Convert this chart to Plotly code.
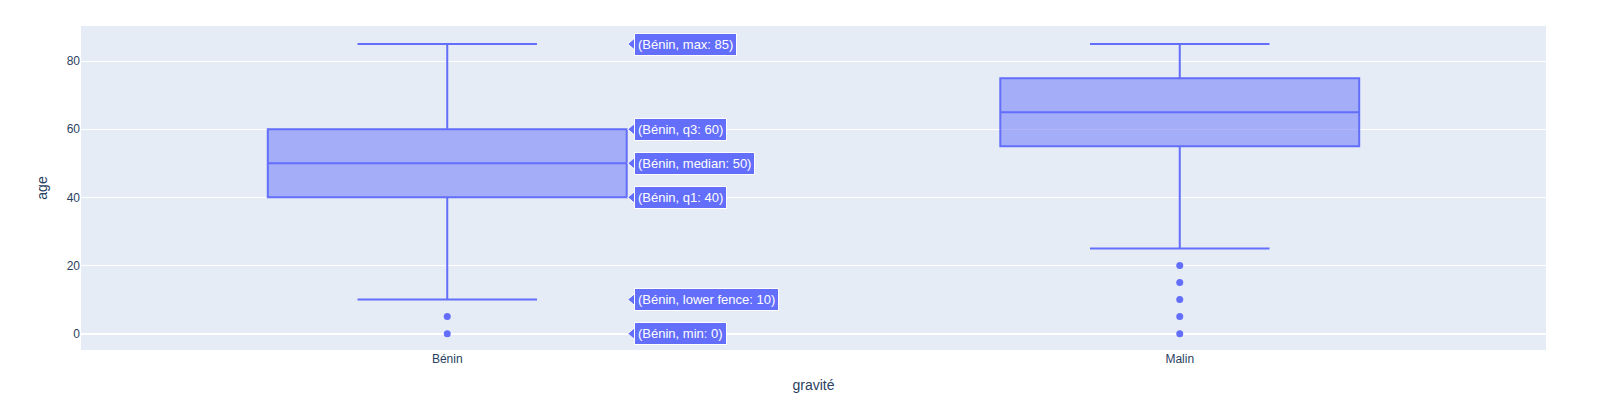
import plotly.graph_objects as go

categories = ["Bénin", "Malin"]
lower_fence = [10, 25]
q1 = [40, 55]
median = [50, 65]
q3 = [60, 75]
upper_fence = [85, 85]
outliers = {"Bénin": [0, 5], "Malin": [0, 5, 10, 15, 20]}

hover_cat = "Bénin"
hover_labels = [("max", 85), ("q3", 60), ("median", 50), ("q1", 40), ("lower fence", 10), ("min", 0)]

COLOR = "#636efa"
BOX_W = 0.49

fig = go.Figure()
fig.add_trace(go.Box(
    x=categories, q1=q1, median=median, q3=q3,
    lowerfence=lower_fence, upperfence=upper_fence,
    width=BOX_W, marker_color=COLOR, line_color=COLOR,
    fillcolor="rgba(99,110,250,0.5)", boxpoints=False, showlegend=False,
))
ox, oy = [], []
for c in categories:
    for v in outliers[c]:
        ox.append(c)
        oy.append(v)
fig.add_trace(go.Scatter(x=ox, y=oy, mode="markers",
                         marker=dict(color=COLOR, size=7), showlegend=False))

xi = categories.index(hover_cat)
edge = xi + BOX_W / 2
for name, val in hover_labels:
    fig.add_shape(type="path", xref="x", yref="y", xsizemode="pixel", ysizemode="pixel",
                  xanchor=edge, yanchor=val, path="M 1 0 L 8 6 L 8 -6 Z",
                  fillcolor=COLOR, line=dict(color="white", width=1), layer="above")
    fig.add_annotation(x=edge, y=val, xref="x", yref="y", xanchor="left", yanchor="middle",
                       xshift=7, showarrow=False,
                       text=f"({hover_cat}, {name}: {val})",
                       font=dict(family="Arial", size=13, color="white"),
                       bgcolor=COLOR, bordercolor="white", borderwidth=1, borderpad=3)

fig.update_layout(
    template="plotly", width=1615, height=407,
    font=dict(family="Arial"),
    margin=dict(l=73, r=77, t=18, b=65),
    xaxis=dict(title=dict(text="gravité"), range=[-0.5, 1.5]),
    yaxis=dict(title=dict(text="age"), range=[-4.8, 90.3]),
)
fig.write_html("out.html")
